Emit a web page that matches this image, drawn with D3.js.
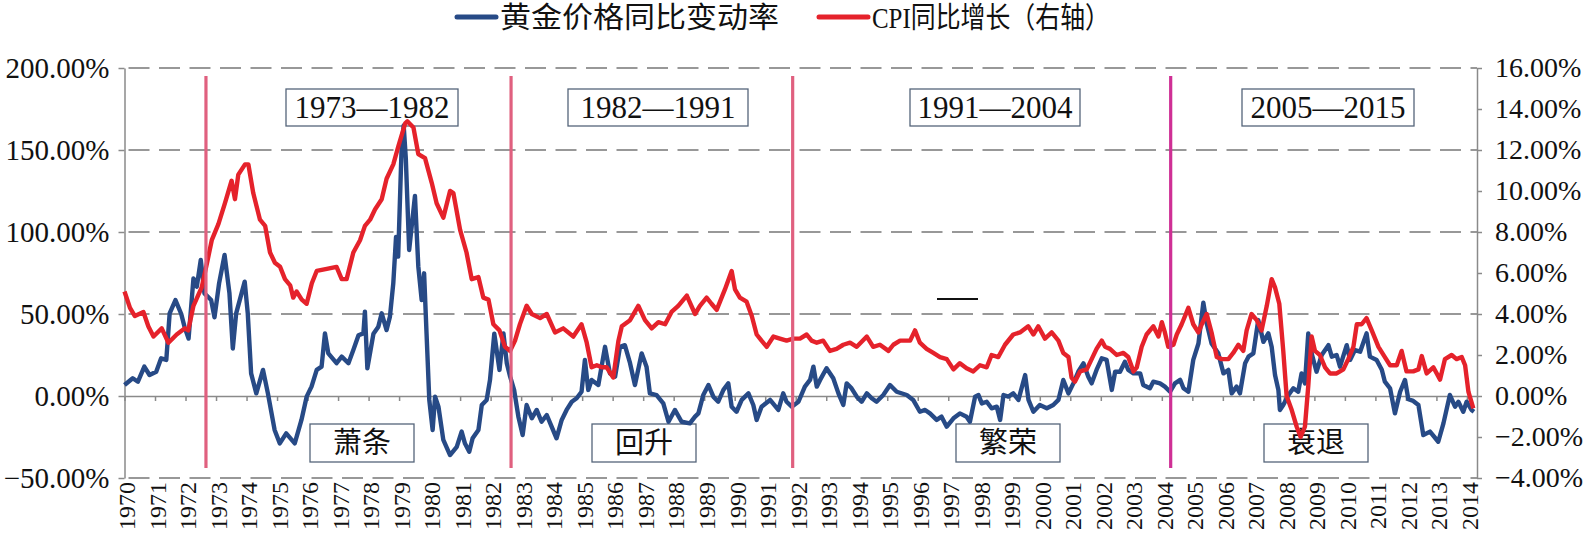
<!DOCTYPE html>
<html>
<head>
<meta charset="utf-8">
<script src="https://cdn.jsdelivr.net/npm/d3@7"></script>
<style>
  body { margin: 0; background: #fff; }
  svg { display: block; }
  text { font-family: "Liberation Serif", "Noto Sans CJK SC", serif; fill: #111; }
  .cjk { font-family: "Liberation Serif", "Noto Sans CJK SC", serif; }
</style>
</head>
<body>
<div id="chart-area"></div>
<script>
// gold price y/y change (%), [year, value]
let goldSeries = [[1970.00,6.7],[1970.27,10.8],[1970.44,8.7],[1970.65,17.9],[1970.82,12.8],[1971.04,14.8],[1971.20,23],[1971.37,22],[1971.48,50.4],[1971.67,58.5],[1971.86,50],[1971.97,42],[1972.10,35],[1972.26,71.7],[1972.37,66.7],[1972.50,83],[1972.62,62.6],[1972.84,58.5],[1972.95,48],[1973.10,68.7],[1973.28,86],[1973.44,62.6],[1973.55,29],[1973.66,50.4],[1973.94,69.7],[1974.04,50.4],[1974.15,13.8],[1974.32,1.6],[1974.54,15.9],[1974.70,1.6],[1974.92,-20.7],[1975.09,-28.9],[1975.30,-22.8],[1975.58,-28.9],[1975.80,-14.6],[1975.97,-0.4],[1976.13,5.7],[1976.30,15.9],[1976.46,17.9],[1976.57,38.2],[1976.68,26],[1976.95,20],[1977.12,24],[1977.34,20],[1977.50,28],[1977.67,37],[1977.83,38.2],[1977.88,51.4],[1977.96,16.9],[1978.16,38],[1978.32,42.3],[1978.43,50.4],[1978.59,40.2],[1978.70,48.4],[1978.81,68.7],[1978.90,97],[1978.97,85],[1979.08,150],[1979.15,165],[1979.22,145],[1979.33,89],[1979.52,122],[1979.63,79],[1979.74,58.5],[1979.82,74.8],[1979.90,38],[1979.99,-2.4],[1980.10,-20.7],[1980.18,-0.4],[1980.29,-6.5],[1980.45,-26.8],[1980.67,-36],[1980.89,-31],[1981.05,-21.7],[1981.16,-29],[1981.30,-34],[1981.41,-25.8],[1981.60,-20.7],[1981.71,-5.5],[1981.87,-2.4],[1981.98,9.8],[1982.12,38],[1982.29,15.9],[1982.42,38.2],[1982.53,20],[1982.64,11.8],[1982.77,3.7],[1982.91,-12.6],[1983.05,-23.8],[1983.18,-5.5],[1983.35,-13.6],[1983.51,-8.5],[1983.67,-15.7],[1983.84,-11.6],[1984.00,-18.7],[1984.16,-25.8],[1984.33,-14.6],[1984.49,-8.5],[1984.66,-3.5],[1984.82,-1.4],[1984.98,2.6],[1985.09,22],[1985.20,3.7],[1985.31,9.8],[1985.53,6.7],[1985.75,30],[1985.91,13.8],[1986.08,11.8],[1986.24,30],[1986.40,31],[1986.57,20],[1986.73,6.7],[1986.95,26],[1987.11,17.9],[1987.22,1.6],[1987.44,0.6],[1987.66,-4.5],[1987.83,-15.7],[1988.04,-8.5],[1988.26,-15.7],[1988.53,-16.7],[1988.70,-12.6],[1988.81,-10.6],[1988.97,0.6],[1989.14,6.7],[1989.30,-0.4],[1989.46,-3.5],[1989.63,3.7],[1989.79,7.7],[1989.90,-6.5],[1990.06,-9.6],[1990.23,-2.4],[1990.45,1.6],[1990.61,-5.5],[1990.72,-14.6],[1990.88,-6.5],[1991.16,-2.4],[1991.43,-8.5],[1991.59,1.6],[1991.70,-3.5],[1991.87,-6.5],[1992.09,-3.5],[1992.30,5.7],[1992.47,9.8],[1992.58,17.9],[1992.69,5.7],[1992.80,9.8],[1993.01,16.9],[1993.23,10.8],[1993.40,1.6],[1993.56,-5.5],[1993.67,7.7],[1993.83,4.7],[1994.00,-0.4],[1994.16,-3.5],[1994.33,1.6],[1994.49,-1.4],[1994.65,-3.5],[1994.87,0.6],[1995.09,6.7],[1995.31,2.6],[1995.64,0.6],[1995.85,-2.4],[1996.07,-9.6],[1996.24,-8.5],[1996.40,-10.6],[1996.62,-14.6],[1996.78,-12.6],[1996.95,-18.7],[1997.17,-13.6],[1997.38,-10.6],[1997.60,-12.6],[1997.71,-15.7],[1997.88,-0.4],[1997.99,0.6],[1998.10,-4.5],[1998.26,-3.5],[1998.42,-7.5],[1998.59,-6.5],[1998.70,-14.6],[1998.81,0.6],[1998.97,-0.4],[1999.13,1.6],[1999.30,-2.4],[1999.52,12.8],[1999.63,-2.4],[1999.79,-9.6],[2000.00,-5.5],[2000.23,-7.5],[2000.44,-5.5],[2000.61,-2.4],[2000.77,9.8],[2000.94,1.6],[2001.10,7.7],[2001.26,14.8],[2001.43,19.9],[2001.59,11.8],[2001.70,7.7],[2001.86,15.9],[2002.03,23],[2002.19,22],[2002.36,3.7],[2002.47,14.8],[2002.63,14.8],[2002.79,20.9],[2002.90,15.9],[2003.07,13.8],[2003.29,13.8],[2003.39,6.7],[2003.61,4.7],[2003.72,8.7],[2003.94,7.7],[2004.10,5.7],[2004.27,2.6],[2004.43,7.7],[2004.60,9.8],[2004.71,4.7],[2004.87,2.6],[2005.03,22],[2005.20,32],[2005.36,56.9],[2005.47,44.3],[2005.63,32],[2005.85,26],[2006.02,13.8],[2006.18,15.9],[2006.29,1.6],[2006.45,5.7],[2006.56,1.6],[2006.73,20],[2006.84,24],[2007.00,26],[2007.16,46.3],[2007.33,33],[2007.49,38.2],[2007.60,30],[2007.71,12.8],[2007.82,3.7],[2007.87,-8.5],[2007.98,-5.5],[2008.15,0.6],[2008.31,4.7],[2008.47,2.6],[2008.58,13.8],[2008.69,7.7],[2008.80,38.2],[2008.91,26],[2009.07,14.8],[2009.24,25],[2009.46,31],[2009.57,24],[2009.73,25],[2009.84,17.9],[2010.06,31],[2010.17,22],[2010.33,28],[2010.50,27],[2010.71,38.2],[2010.82,24],[2011.04,22],[2011.21,16],[2011.31,8.7],[2011.48,4.7],[2011.64,-10.6],[2011.81,2.6],[2011.97,9.8],[2012.08,-2],[2012.24,-3],[2012.41,-5.5],[2012.57,-23.8],[2012.79,-21.7],[2013.06,-27.9],[2013.23,-16.7],[2013.44,0.6],[2013.61,-6.5],[2013.72,-3.5],[2013.88,-9.6],[2013.99,-3.5],[2014.15,-8.5],[2014.23,-9.6]];

// CPI y/y (%), right axis, [year, value]
let cpiSeries = [[1970.00,5.1],[1970.18,4.3],[1970.34,3.9],[1970.62,4.1],[1970.78,3.4],[1970.95,2.9],[1971.22,3.3],[1971.44,2.6],[1971.71,3.0],[1971.98,3.3],[1972.09,3.2],[1972.26,4.4],[1972.53,5.3],[1972.72,6.6],[1972.86,7.6],[1973.08,8.4],[1973.29,9.4],[1973.51,10.5],[1973.62,9.6],[1973.73,10.8],[1973.95,11.3],[1974.06,11.3],[1974.22,9.9],[1974.44,8.6],[1974.61,8.3],[1974.77,7.0],[1974.93,6.5],[1975.10,6.3],[1975.26,5.7],[1975.43,5.4],[1975.53,4.8],[1975.64,5.1],[1975.81,4.7],[1975.97,4.5],[1976.14,5.5],[1976.30,6.1],[1976.63,6.2],[1976.95,6.3],[1977.12,5.7],[1977.28,5.7],[1977.50,7.0],[1977.72,7.6],[1977.88,8.3],[1978.05,8.6],[1978.21,9.1],[1978.43,9.6],[1978.59,10.6],[1978.81,11.3],[1978.98,12.2],[1979.20,13.3],[1979.27,13.4],[1979.47,13.1],[1979.63,11.8],[1979.85,11.6],[1980.07,10.4],[1980.23,9.4],[1980.45,8.7],[1980.67,10.0],[1980.78,9.9],[1981.00,8.1],[1981.21,7.0],[1981.38,5.7],[1981.60,5.8],[1981.76,4.8],[1981.93,4.7],[1982.09,3.5],[1982.29,3.2],[1982.47,2.4],[1982.64,2.2],[1982.80,2.7],[1982.96,3.5],[1983.18,4.4],[1983.35,4.0],[1983.62,3.8],[1983.84,4.0],[1984.11,3.1],[1984.38,3.3],[1984.71,2.9],[1984.98,3.5],[1985.15,2.6],[1985.31,1.4],[1985.48,1.5],[1985.64,1.4],[1985.80,1.4],[1986.02,0.9],[1986.19,2.7],[1986.30,3.4],[1986.57,3.7],[1986.84,4.4],[1987.06,3.7],[1987.28,3.3],[1987.50,3.6],[1987.72,3.5],[1987.93,4.1],[1988.15,4.4],[1988.43,4.9],[1988.70,4.0],[1988.86,4.4],[1989.08,4.8],[1989.24,4.5],[1989.41,4.2],[1989.68,5.2],[1989.90,6.1],[1990.01,5.2],[1990.17,4.8],[1990.39,4.6],[1990.56,3.9],[1990.72,3.0],[1990.88,2.7],[1991.05,2.4],[1991.27,2.9],[1991.48,2.8],[1991.70,2.7],[1991.92,2.8],[1992.14,2.8],[1992.36,3.0],[1992.52,2.7],[1992.69,2.6],[1992.90,2.7],[1993.12,2.2],[1993.34,2.3],[1993.56,2.5],[1993.78,2.6],[1994.00,2.4],[1994.33,2.9],[1994.54,2.4],[1994.76,2.5],[1995.04,2.2],[1995.20,2.5],[1995.42,2.7],[1995.75,2.7],[1995.91,3.2],[1996.07,2.6],[1996.29,2.3],[1996.51,2.1],[1996.73,1.9],[1996.95,1.8],[1997.17,1.3],[1997.38,1.6],[1997.60,1.35],[1997.82,1.2],[1998.04,1.5],[1998.26,1.4],[1998.42,2.0],[1998.64,1.9],[1998.86,2.5],[1999.13,3.0],[1999.35,3.1],[1999.62,3.4],[1999.79,3.0],[1999.95,3.4],[2000.17,2.8],[2000.39,3.1],[2000.61,2.7],[2000.77,2.1],[2000.94,1.9],[2001.04,0.9],[2001.15,0.7],[2001.32,1.2],[2001.54,1.3],[2001.70,1.8],[2001.86,2.3],[2002.03,2.7],[2002.14,2.4],[2002.30,2.3],[2002.52,2.0],[2002.74,2.1],[2002.90,1.9],[2003.07,1.2],[2003.18,1.4],[2003.34,2.4],[2003.50,3.0],[2003.72,3.4],[2003.89,2.9],[2004.00,3.6],[2004.10,3.1],[2004.21,2.4],[2004.38,2.5],[2004.49,3.0],[2004.65,3.5],[2004.87,4.3],[2005.03,3.5],[2005.20,3.1],[2005.31,3.5],[2005.47,4.0],[2005.63,3.1],[2005.80,1.9],[2005.96,1.8],[2006.18,1.8],[2006.34,2.1],[2006.51,2.5],[2006.67,2.2],[2006.78,3.2],[2006.94,4.0],[2007.11,3.7],[2007.27,3.2],[2007.44,4.4],[2007.60,5.7],[2007.71,5.3],[2007.85,4.5],[2007.98,2.2],[2008.09,0.0],[2008.26,-0.7],[2008.42,-1.5],[2008.55,-2.0],[2008.69,-1.5],[2008.80,0.5],[2008.91,2.9],[2009.02,2.2],[2009.18,2.0],[2009.35,1.4],[2009.51,1.1],[2009.73,1.1],[2009.95,1.3],[2010.11,1.8],[2010.28,2.4],[2010.39,3.5],[2010.55,3.5],[2010.71,3.8],[2010.88,3.2],[2011.10,2.4],[2011.31,1.9],[2011.48,1.5],[2011.70,1.5],[2011.86,2.2],[2012.02,1.2],[2012.24,1.2],[2012.41,1.3],[2012.52,1.95],[2012.68,1.1],[2012.90,1.4],[2013.12,0.8],[2013.28,1.8],[2013.50,2.0],[2013.66,1.8],[2013.83,1.9],[2013.94,1.5],[2014.05,0.2],[2014.21,-0.6]];

let yearLabels = [1970,1971,1972,1973,1974,1975,1976,1977,1978,1979,1980,1981,1982,1983,1984,1985,1986,1987,1988,1989,1990,1991,1992,1993,1994,1995,1996,1997,1998,1999,2000,2001,2002,2003,2004,2005,2006,2007,2008,2009,2010,2011,2012,2013,2014];
let leftTicks = [-50, 0, 50, 100, 150, 200];
let rightTicks = [-4, -2, 0, 2, 4, 6, 8, 10, 12, 14, 16];

// cycle dividers (year) and their labels
let dividerYears = [1972.67, 1982.67, 1991.9, 2004.29];
let periodLabels = ["1973—1982", "1982—1991", "1991—2004", "2005—2015"];
let phaseLabels = ["萧条", "回升", "繁荣", "衰退"];
let seriesNames = ["黄金价格同比变动率", "CPI同比增长（右轴）"];

// layout
let width = 1586, height = 535;
let plot = {left: 124.5, right: 1477, top: 68, bottom: 478};
let blue = "#274a86", red = "#e5222b";

let svg = d3.select("#chart-area").append("svg")
    .attr("width", width)
    .attr("height", height);

let x = d3.scaleLinear().domain([1970, 2014.33]).range([plot.left, plot.right]);
let yL = d3.scaleLinear().domain([-50, 200]).range([plot.bottom, plot.top]);
let yR = d3.scaleLinear().domain([-4, 16]).range([plot.bottom, plot.top]);

// dashed gridlines
svg.append("g").selectAll("line")
    .data(leftTicks.filter(d => d != 0))
    .enter().append("line")
    .attr("x1", plot.left).attr("x2", plot.right)
    .attr("y1", d => yL(d)).attr("y2", d => yL(d))
    .attr("stroke", "#333")
    .attr("stroke-width", 1.2)
    .attr("stroke-dasharray", "21,9.5")
    .attr("stroke-dashoffset", -4);

// phase boxes (bottom) and period boxes (top)
let periodBoxes = [[286, 172], [568, 180], [910, 170], [1242, 172]];
let phaseBoxes = [[310, 104], [592, 104], [956, 104], [1264, 104]];

let boxes = svg.append("g");
boxes.selectAll(".pbox").data(periodLabels).enter().append("rect")
    .attr("class", "pbox")
    .attr("x", (d, i) => periodBoxes[i][0]).attr("y", 89)
    .attr("width", (d, i) => periodBoxes[i][1]).attr("height", 37)
    .attr("fill", "#fff").attr("stroke", "#55657a").attr("stroke-width", 1.3);
boxes.selectAll(".ptext").data(periodLabels).enter().append("text")
    .attr("class", "ptext")
    .attr("x", (d, i) => periodBoxes[i][0] + periodBoxes[i][1] / 2)
    .attr("y", 118)
    .attr("text-anchor", "middle")
    .style("font-size", "31px")
    .text(d => d);
boxes.selectAll(".hbox").data(phaseLabels).enter().append("rect")
    .attr("class", "hbox")
    .attr("x", (d, i) => phaseBoxes[i][0]).attr("y", 424)
    .attr("width", (d, i) => phaseBoxes[i][1]).attr("height", 38)
    .attr("fill", "#fff").attr("stroke", "#55657a").attr("stroke-width", 1.3);
boxes.selectAll(".htext").data(phaseLabels).enter().append("text")
    .attr("class", "htext cjk")
    .attr("x", (d, i) => phaseBoxes[i][0] + phaseBoxes[i][1] / 2)
    .attr("y", 443)
    .attr("dy", "0.36em")
    .attr("text-anchor", "middle")
    .style("font-size", "29px")
    .text(d => d);

// stray dash in the middle of the chart
svg.append("line")
    .attr("x1", 937).attr("x2", 978).attr("y1", 299).attr("y2", 299)
    .attr("stroke", "#111").attr("stroke-width", 2);

// zero axis with year ticks
let xAxis = d3.axisBottom(x).tickValues(yearLabels).tickSize(5).tickSizeOuter(0).tickFormat("");
let xg = svg.append("g")
    .attr("transform", "translate(0," + yL(0) + ")")
    .call(xAxis);
xg.select(".domain").attr("stroke", "#8a8a8a").attr("stroke-width", 1.5);
xg.selectAll(".tick line").attr("stroke", "#8a8a8a").attr("stroke-width", 1.5);

// year labels at the bottom
svg.append("g").selectAll("text")
    .data(yearLabels)
    .enter().append("text")
    .attr("transform", d => "translate(" + x(d) + ",482) rotate(-90)")
    .attr("text-anchor", "end")
    .attr("dy", "0.45em")
    .style("font-size", "24px")
    .text(d => d);

// left axis
let yAxisL = d3.axisLeft(yL).tickValues(leftTicks).tickSize(6).tickSizeOuter(0).tickPadding(9)
    .tickFormat(d => d3.format(".2f")(d) + "%");
let gl = svg.append("g").attr("transform", "translate(" + plot.left + ",0)").call(yAxisL);
gl.select(".domain").attr("stroke", "#8a8a8a").attr("stroke-width", 1.5);
gl.selectAll(".tick line").attr("stroke", "#8a8a8a").attr("stroke-width", 1.5);
gl.selectAll("text").style("font-size", "29px").attr("fill", "#111")
    .style("font-family", "'Liberation Serif', serif");

// right axis
let yAxisR = d3.axisRight(yR).tickValues(rightTicks).tickSize(5).tickSizeOuter(0).tickPadding(13)
    .tickFormat(d => d3.format(".2f")(d) + "%");
let gr = svg.append("g").attr("transform", "translate(" + plot.right + ",0)").call(yAxisR);
gr.select(".domain").attr("stroke", "#8a8a8a").attr("stroke-width", 1.5);
gr.selectAll(".tick line").attr("stroke", "#8a8a8a").attr("stroke-width", 1.5);
gr.selectAll("text").style("font-size", "28px").attr("fill", "#111")
    .style("font-family", "'Liberation Serif', serif");

// series lines
let goldLine = d3.line().x(d => x(d[0])).y(d => yL(d[1]));
let cpiLine = d3.line().x(d => x(d[0])).y(d => yR(d[1]));

svg.append("path")
    .datum(goldSeries)
    .attr("fill", "none")
    .attr("stroke", blue)
    .attr("stroke-width", 4.4)
    .attr("stroke-linejoin", "round")
    .attr("d", goldLine);

svg.append("path")
    .datum(cpiSeries)
    .attr("fill", "none")
    .attr("stroke", red)
    .attr("stroke-width", 4.4)
    .attr("stroke-linejoin", "round")
    .attr("d", cpiLine);

// cycle dividers
svg.append("g").selectAll("line")
    .data(dividerYears)
    .enter().append("line")
    .attr("x1", d => x(d)).attr("x2", d => x(d))
    .attr("y1", 76).attr("y2", 468)
    .attr("stroke", (d, i) => i == 3 ? "#cf2f95" : "#e0607f")
    .attr("stroke-width", 3.2);

// legend
let legend = [[457, 496, 500, 279, blue], [819, 868, 872, 238, red]];
let lg = svg.append("g");
lg.selectAll("line").data(seriesNames).enter().append("line")
    .attr("x1", (d, i) => legend[i][0]).attr("x2", (d, i) => legend[i][1])
    .attr("y1", 17).attr("y2", 17)
    .attr("stroke", (d, i) => legend[i][4])
    .attr("stroke-width", 5)
    .attr("stroke-linecap", "round");
lg.selectAll("text").data(seriesNames).enter().append("text")
    .attr("class", "cjk")
    .attr("x", (d, i) => legend[i][2])
    .attr("y", 18)
    .attr("dy", "0.36em")
    .attr("textLength", (d, i) => legend[i][3])
    .attr("lengthAdjust", "spacingAndGlyphs")
    .style("font-size", "29px")
    .text(d => d);
</script>
</body>
</html>
